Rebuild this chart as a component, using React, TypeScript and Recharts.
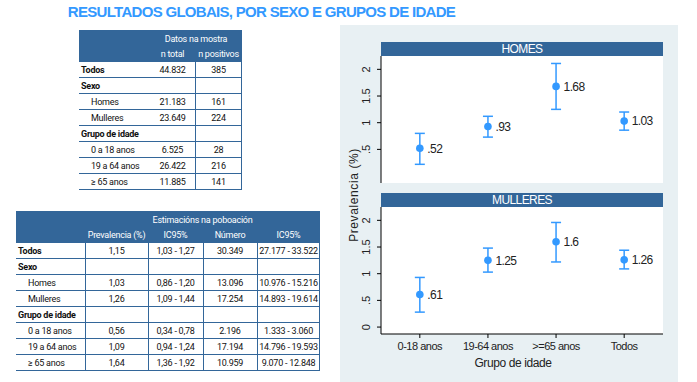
import React from 'react';
import {
  ComposedChart,
  Scatter,
  ErrorBar,
  XAxis,
  YAxis,
  CartesianGrid,
  LabelList,
  Label,
} from 'recharts';

// Chart data: prevalence (%) with 95% CI by age group, split by sex
const CATEGORIES = ['0-18 anos', '19-64 anos', '>=65 anos', 'Todos'];
const HOMES_PREV = [0.52, 0.93, 1.68, 1.03];
const HOMES_LO = [0.22, 0.73, 1.25, 0.86];
const HOMES_HI = [0.8, 1.12, 2.11, 1.2];
const MULLERES_PREV = [0.61, 1.25, 1.6, 1.26];
const MULLERES_LO = [0.28, 1.03, 1.22, 1.09];
const MULLERES_HI = [0.93, 1.48, 1.96, 1.44];
const Y_TICKS = [0, 0.5, 1, 1.5, 2];

// Table data
const ROW_LABELS = ['Todos', 'Sexo', 'Homes', 'Mulleres', 'Grupo de idade', '0 a 18 anos', '19 a 64 anos', '≥ 65 anos'];
const GROUP_ROWS = ['Todos', 'Sexo', 'Grupo de idade'];
const SAMPLE_N_TOTAL = ['44.832', '', '21.183', '23.649', '', '6.525', '26.422', '11.885'];
const SAMPLE_N_POS = ['385', '', '161', '224', '', '28', '216', '141'];
const EST_PREV = ['1,15', '', '1,03', '1,26', '', '0,56', '1,09', '1,64'];
const EST_PREV_CI = ['1,03 - 1,27', '', '0,86 - 1,20', '1,09 - 1,44', '', '0,34 - 0,78', '0,94 - 1,24', '1,36 - 1,92'];
const EST_NUM = ['30.349', '', '13.096', '17.254', '', '2.196', '17.194', '10.959'];
const EST_NUM_CI = ['27.177 - 33.522', '', '10.976 - 15.216', '14.893 - 19.614', '', '1.333 - 3.060', '14.796 - 19.593', '9.070 - 12.848'];

const NAVY = '#336699';
const BLUE = '#3399ff';
const PANEL_BG = '#e8f0f3';
const TABLE_FONT = 'Roboto, "Noto Sans", sans-serif';
const CHART_FONT = '"Liberation Sans", Arial, sans-serif';

const ROW_H = 16;

interface TableProps {
  left: number;
  top: number;
  colWidths: number[];
  title: string;
  headers: string[];
  columns: string[][];
  vLines: number[]; // indexes of column boundaries that get a vertical rule
}

function DataTable({ left, top, colWidths, title, headers, columns, vLines }: TableProps) {
  const total = colWidths.reduce((a, b) => a + b, 0);
  const edges = colWidths.reduce<number[]>((acc, w) => [...acc, acc[acc.length - 1] + w], [0]);
  const headH = ROW_H * 2;
  const bodyH = ROW_LABELS.length * ROW_H;
  const cellText: React.CSSProperties = {
    position: 'absolute',
    fontFamily: TABLE_FONT,
    fontSize: 9,
    letterSpacing: -0.25,
    lineHeight: `${ROW_H}px`,
    height: ROW_H,
    whiteSpace: 'nowrap',
    color: '#111',
  };
  return (
    <div style={{ position: 'absolute', left, top, width: total, height: headH + bodyH }}>
      <div style={{ position: 'absolute', left: 0, top: 0, width: total, height: headH, background: NAVY }} />
      <div style={{ ...cellText, left: edges[1], width: total - edges[1], top: 1, textAlign: 'center', color: '#fff' }}>
        {title}
      </div>
      {headers.map((h, i) => (
        <div
          key={i}
          style={{ ...cellText, left: edges[i + 1], width: colWidths[i + 1], top: ROW_H, textAlign: 'center', color: '#fff' }}
        >
          {h}
        </div>
      ))}
      {ROW_LABELS.map((label, r) => {
        const y = headH + r * ROW_H;
        const bold = GROUP_ROWS.includes(label);
        return (
          <React.Fragment key={label}>
            <div
              style={{
                ...cellText,
                left: bold ? 2 : 12,
                top: y,
                fontWeight: bold ? 'bold' : 'normal',
              }}
            >
              {label}
            </div>
            {columns.map((col, c) => (
              <div
                key={c}
                style={{ ...cellText, left: edges[c + 1], width: colWidths[c + 1], top: y, textAlign: 'center' }}
              >
                {col[r]}
              </div>
            ))}
            <div style={{ position: 'absolute', left: 0, top: y + ROW_H - 1, width: total, height: 1, background: NAVY }} />
          </React.Fragment>
        );
      })}
      {vLines.map((e) => (
        <div
          key={e}
          style={{ position: 'absolute', left: edges[e] - (e === colWidths.length ? 1 : 0), top: headH, width: 1, height: bodyH, background: NAVY }}
        />
      ))}
    </div>
  );
}

function fmtStata(v: number): string {
  if (v === 0) return '0';
  return String(v).replace(/^0\./, '.');
}

function RotatedTick(props: any) {
  const { x, y, payload } = props;
  return (
    <text
      x={x - 5}
      y={y}
      transform={`rotate(-90, ${x - 5}, ${y})`}
      textAnchor="middle"
      fontSize={11}
      fontFamily={CHART_FONT}
      fill="#222"
    >
      {fmtStata(payload.value)}
    </text>
  );
}

function Dot(props: any) {
  const { cx, cy } = props;
  return <circle cx={cx} cy={cy} r={3.8} fill={BLUE} />;
}

interface PanelProps {
  title: string;
  prev: number[];
  lo: number[];
  hi: number[];
  top: number;
  showX: boolean;
}

const PLOT_H = 127;
const AXIS_H = 40;

function Panel({ title, prev, lo, hi, top, showX }: PanelProps) {
  const data = CATEGORIES.map((c, i) => ({
    x: i + 1,
    y: prev[i],
    err: [+(prev[i] - lo[i]).toFixed(2), +(hi[i] - prev[i]).toFixed(2)],
  }));
  return (
    <>
      <div
        style={{
          position: 'absolute',
          left: 381,
          top: top - 14,
          width: 282,
          height: 14,
          background: NAVY,
          color: '#fff',
          fontFamily: CHART_FONT,
          fontSize: 12,
          lineHeight: '14px',
          textAlign: 'center',
          letterSpacing: -0.6,
        }}
      >
        {title}
      </div>
      <div style={{ position: 'absolute', left: 340, top }}>
        <ComposedChart
          width={340}
          height={showX ? PLOT_H + AXIS_H : PLOT_H}
          data={data}
          margin={{ top: 0, right: 17, bottom: 0, left: 0 }}
        >
          <CartesianGrid fill="#fff" horizontal={false} vertical={false} />
          <XAxis
            type="number"
            dataKey="x"
            domain={[0.43, 4.57]}
            ticks={[1, 2, 3, 4]}
            allowDataOverflow
            hide={!showX}
            height={AXIS_H}
            tickFormatter={(v) => CATEGORIES[v - 1]}
            tick={{ fontSize: 11, fill: '#222', fontFamily: CHART_FONT, letterSpacing: -0.5 }}
            tickSize={4}
            tickMargin={4}
            axisLine={{ stroke: '#000' }}
            tickLine={{ stroke: '#000' }}
          >
            <Label
              value="Grupo de idade"
              position="insideBottom"
              offset={7}
              dx={-9}
              style={{ fontSize: 12, fill: '#222', fontFamily: CHART_FONT, letterSpacing: -0.4 }}
            />
          </XAxis>
          <YAxis
            type="number"
            domain={[-0.13, 2.25]}
            ticks={Y_TICKS}
            allowDataOverflow
            width={41}
            tick={<RotatedTick />}
            tickSize={4}
            axisLine={{ stroke: '#000' }}
            tickLine={{ stroke: '#000' }}
          />
          <Scatter dataKey="y" fill={BLUE} shape={<Dot />} isAnimationActive={false}>
            <ErrorBar dataKey="err" direction="y" width={5} stroke={BLUE} strokeWidth={1.5} isAnimationActive={false} />
            <LabelList
              dataKey="y"
              position="right"
              offset={3}
              formatter={(v: any) => fmtStata(Number(v))}
              style={{ fontSize: 12, fill: '#222', fontFamily: CHART_FONT, letterSpacing: -0.6 }}
            />
          </Scatter>
        </ComposedChart>
      </div>
    </>
  );
}

export default function App() {
  return (
    <div style={{ position: 'absolute', left: 0, top: 0, width: 697, height: 382, background: '#fff', overflow: 'hidden' }}>
      <div
        style={{
          position: 'absolute',
          left: 0,
          top: 2,
          width: 523,
          textAlign: 'center',
          fontFamily: CHART_FONT,
          fontWeight: 'bold',
          fontSize: 15,
          color: BLUE,
          letterSpacing: -0.7,
          lineHeight: '20px',
        }}
      >
        RESULTADOS GLOBAIS, POR SEXO E GRUPOS DE IDADE
      </div>

      <DataTable
        left={79}
        top={30}
        colWidths={[71, 45, 47]}
        title="Datos na mostra"
        headers={['n total', 'n positivos']}
        columns={[SAMPLE_N_TOTAL, SAMPLE_N_POS]}
        vLines={[2, 3]}
      />
      <DataTable
        left={16}
        top={211}
        colWidths={[69, 63, 55, 54, 63]}
        title="Estimacións na poboación"
        headers={['Prevalencia (%)', 'IC95%', 'Número', 'IC95%']}
        columns={[EST_PREV, EST_PREV_CI, EST_NUM, EST_NUM_CI]}
        vLines={[1, 2, 3, 4, 5]}
      />

      <div style={{ position: 'absolute', left: 340, top: 25, width: 338, height: 357, background: PANEL_BG }} />
      <Panel title="HOMES" prev={HOMES_PREV} lo={HOMES_LO} hi={HOMES_HI} top={56} showX={false} />
      <Panel title="MULLERES" prev={MULLERES_PREV} lo={MULLERES_LO} hi={MULLERES_HI} top={207} showX />
      <div
        style={{
          position: 'absolute',
          left: 354 - 60,
          top: 195 - 8,
          width: 120,
          height: 16,
          lineHeight: '16px',
          textAlign: 'center',
          transform: 'rotate(-90deg)',
          fontFamily: CHART_FONT,
          fontSize: 12,
          color: '#222',
          letterSpacing: 0.6,
          whiteSpace: 'nowrap',
        }}
      >
        Prevalencia (%)
      </div>
    </div>
  );
}
